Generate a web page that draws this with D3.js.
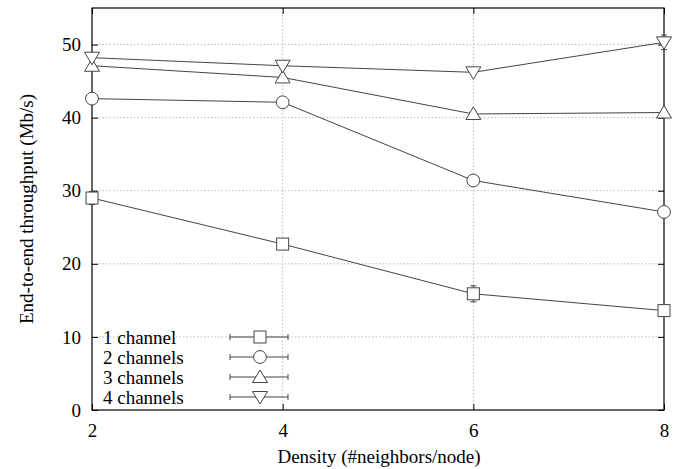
<!DOCTYPE html>
<html><head><meta charset="utf-8">
<script src="https://cdn.jsdelivr.net/npm/d3@7"></script>
<style>body{margin:0;background:#fff;}</style>
</head><body><svg id="c" width="686" height="469"></svg>
<script>
const density = [2, 4, 6, 8];
const seriesNames = ["1 channel", "2 channels", "3 channels", "4 channels"];
const ch1 = [29.0, 22.7, 15.9, 13.6];
const ch2 = [42.6, 42.1, 31.4, 27.1];
const ch3 = [47.1, 45.5, 40.5, 40.7];
const ch4 = [48.2, 47.1, 46.2, 50.3];
const err1 = [0.9, 0.4, 1.1, 0.4];
const err2 = [0.3, 0.3, 0.3, 0.3];
const err3 = [0.3, 0.3, 0.3, 0.3];
const err4 = [0.3, 0.3, 0.3, 1.0];
const yTicks = [0, 10, 20, 30, 40, 50];
const xTicks = [2, 4, 6, 8];
const symbols = ["square", "circle", "triangle", "triangleDown"];

const FONT = "'Liberation Serif'";
const FS = 19;
const svg = d3.select("#c");
const L = 92, R = 664, T = 8, B = 410;
const x = d3.scaleLinear().domain([2, 8]).range([L, R]);
const y = d3.scaleLinear().domain([0, 55]).range([B, T]);
const lineCol = "#444";

// grid
const g = svg.append("g");
g.selectAll(".gy").data(yTicks.filter(v => v > 0)).enter().append("line")
  .attr("x1", L).attr("x2", R).attr("y1", d => y(d)).attr("y2", d => y(d))
  .attr("stroke", "#aaa").attr("stroke-width", 0.8).attr("stroke-dasharray", "1.5,2");
g.selectAll(".gx").data(xTicks.filter(v => v > 2 && v < 8)).enter().append("line")
  .attr("y1", T).attr("y2", B).attr("x1", d => x(d)).attr("x2", d => x(d))
  .attr("stroke", "#aaa").attr("stroke-width", 0.8).attr("stroke-dasharray", "1.5,2");

// axes
const ax = svg.append("g").attr("transform", `translate(0,${B})`)
  .call(d3.axisBottom(x).tickValues(xTicks).tickSize(-6).tickPadding(14).tickFormat(d3.format("d")));
const ay = svg.append("g").attr("transform", `translate(${L},0)`)
  .call(d3.axisLeft(y).tickValues(yTicks).tickSize(-6).tickPadding(11).tickFormat(d3.format("d")));
const axTop = svg.append("g").attr("transform", `translate(0,${T})`)
  .call(d3.axisTop(x).tickValues(xTicks).tickSize(-6).tickFormat(""));
const ayR = svg.append("g").attr("transform", `translate(${R},0)`)
  .call(d3.axisRight(y).tickValues(yTicks).tickSize(-6).tickFormat(""));
[ax, ay, axTop, ayR].forEach(a => {
  a.attr("font-family", FONT).attr("font-size", FS);
  a.select(".domain").remove();
  a.selectAll("line").attr("stroke", "#000");
  a.selectAll("text").attr("fill", "#000").attr("font-family", FONT).attr("font-size", FS);
});
svg.append("rect").attr("x", L).attr("y", T).attr("width", R - L).attr("height", B - T)
  .attr("fill", "none").attr("stroke", "#000").attr("stroke-width", 1.2);

svg.append("text").attr("x", (L + R) / 2 + 1).attr("y", 463).attr("text-anchor", "middle")
  .attr("font-family", FONT).attr("font-size", FS).text("Density (#neighbors/node)");
svg.append("text").attr("transform", "translate(33,209) rotate(-90)").attr("text-anchor", "middle")
  .attr("font-family", FONT).attr("font-size", FS).text("End-to-end throughput (Mb/s)");

function marker(sel, type, cx, cy) {
  if (type === "square") {
    sel.append("rect").attr("x", cx - 6).attr("y", cy - 6).attr("width", 12).attr("height", 12)
      .attr("fill", "#fff").attr("stroke", lineCol);
  } else if (type === "circle") {
    sel.append("circle").attr("cx", cx).attr("cy", cy).attr("r", 6.4).attr("fill", "#fff").attr("stroke", lineCol);
  } else if (type === "triangle") {
    sel.append("path").attr("d", `M${cx},${cy - 7}L${cx + 7.5},${cy + 5.5}L${cx - 7.5},${cy + 5.5}Z`)
      .attr("fill", "#fff").attr("stroke", lineCol);
  } else {
    sel.append("path").attr("d", `M${cx},${cy + 7}L${cx + 7.5},${cy - 5.5}L${cx - 7.5},${cy - 5.5}Z`)
      .attr("fill", "#fff").attr("stroke", lineCol);
  }
}

const allSeries = [ch1, ch2, ch3, ch4];
const allErr = [err1, err2, err3, err4];
const line = d3.line().x((d, i) => x(density[i])).y(d => y(d));
allSeries.forEach((s, k) => {
  const sg = svg.append("g");
  sg.append("path").attr("d", line(s)).attr("fill", "none").attr("stroke", lineCol).attr("stroke-width", 1);
  s.forEach((v, i) => {
    const cx = x(density[i]), e = allErr[k][i];
    sg.append("line").attr("x1", cx).attr("x2", cx).attr("y1", y(v - e)).attr("y2", y(v + e)).attr("stroke", lineCol);
    [v - e, v + e].forEach(w => sg.append("line").attr("x1", cx - 3).attr("x2", cx + 3)
      .attr("y1", y(w)).attr("y2", y(w)).attr("stroke", lineCol));
  });
  s.forEach((v, i) => marker(sg, symbols[k], x(density[i]), y(v)));
});

// legend
seriesNames.forEach((n, k) => {
  const ly = 337 + k * 20;
  const lg = svg.append("g");
  lg.append("text").attr("x", 103).attr("y", ly + 6.5).attr("font-family", FONT).attr("font-size", FS).text(n);
  lg.append("line").attr("x1", 230).attr("x2", 288).attr("y1", ly).attr("y2", ly).attr("stroke", lineCol);
  [230, 288].forEach(xx => lg.append("line").attr("x1", xx).attr("x2", xx).attr("y1", ly - 3).attr("y2", ly + 3).attr("stroke", lineCol));
  marker(lg, symbols[k], 260, ly);
});
</script></body></html>
